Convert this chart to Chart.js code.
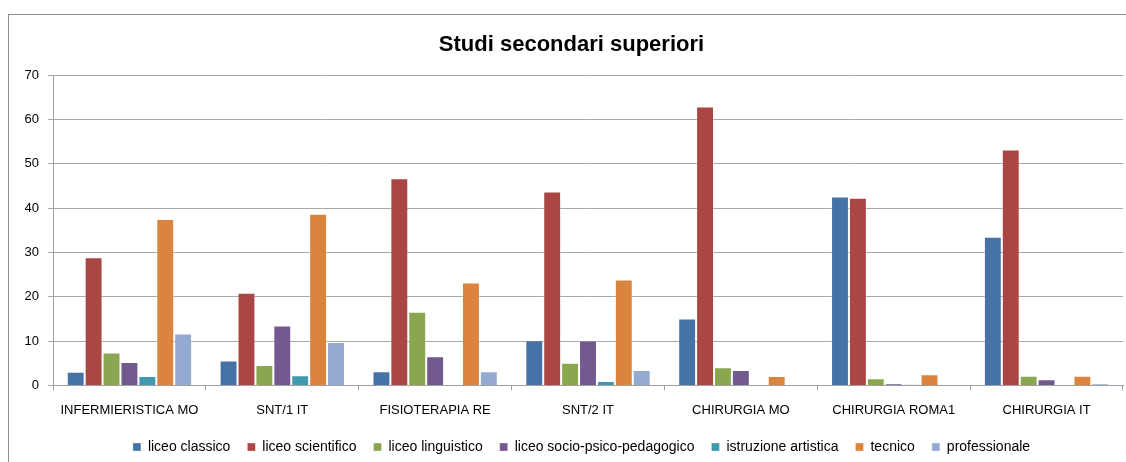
<!DOCTYPE html>
<html>
<head>
<meta charset="utf-8">
<script src="https://cdn.jsdelivr.net/npm/chart.js@4.4.1/dist/chart.umd.min.js"></script>
<style>
  html, body { margin: 0; padding: 0; background: #ffffff; overflow: hidden; }
  #wrap { width: 1126px; height: 462px; position: relative; }
</style>
</head>
<body>
<div id="wrap"><canvas id="c" width="1126" height="462"></canvas></div>
<script>
const categories = ['INFERMIERISTICA MO', 'SNT/1 IT', 'FISIOTERAPIA RE', 'SNT/2 IT', 'CHIRURGIA MO', 'CHIRURGIA ROMA1', 'CHIRURGIA IT'];
const seriesNames = ['liceo classico', 'liceo scientifico', 'liceo linguistico', 'liceo socio-psico-pedagogico', 'istruzione artistica', 'tecnico', 'professionale'];
const liceoClassico    = [3.1, 5.6, 3.2, 10.2, 15.1, 42.6, 33.5];
const liceoScientifico = [28.9, 20.9, 46.7, 43.7, 62.9, 42.3, 53.2];
const liceoLinguistico = [7.4, 4.6, 16.6, 5.1, 4.1, 1.6, 2.2];
const liceoSocio       = [5.3, 13.5, 6.6, 10.1, 3.5, 0.4, 1.4];
const istruzioneArt    = [2.1, 2.3, 0, 1.0, 0, 0.2, 0];
const tecnico          = [37.5, 38.7, 23.2, 23.9, 2.1, 2.5, 2.2];
const professionale    = [11.7, 9.8, 3.2, 3.5, 0, 0.1, 0.45];
const yTicks = [0, 10, 20, 30, 40, 50, 60, 70];
const colors = ['#4672A8', '#AA4744', '#8AA64F', '#72598F', '#4199B0', '#DB843E', '#94AAD0'];

const seriesValues = [liceoClassico, liceoScientifico, liceoLinguistico, liceoSocio, istruzioneArt, tecnico, professionale];

const framePlugin = {
  id: 'frame',
  afterLayout(chart) {
    if (chart.legend) { chart.legend.left += 10; chart.legend.right += 10; }
  },
  beforeDraw(chart) {
    const ctx = chart.ctx;
    ctx.save();
    ctx.fillStyle = '#ffffff';
    ctx.fillRect(0, 0, chart.width, chart.height);
    ctx.strokeStyle = '#8e8e8e';
    ctx.lineWidth = 1;
    ctx.strokeRect(8.5, 14.5, 1300, 600);
    ctx.restore();
  }
};

const FONT = "'Liberation Sans', Arial, sans-serif";

new Chart(document.getElementById('c'), {
  type: 'bar',
  data: {
    labels: categories,
    datasets: seriesNames.map((n, i) => ({
      label: n,
      data: seriesValues[i],
      backgroundColor: colors[i],
      borderColor: 'rgba(255,255,255,0.3)',
      borderWidth: 1,
      categoryPercentage: 0.82,
      barPercentage: 1.0
    }))
  },
  options: {
    responsive: false,
    animation: false,
    devicePixelRatio: 1,
    layout: { padding: { left: 20, right: 3, top: 0, bottom: -2 } },
    plugins: {
      title: {
        display: true,
        text: 'Studi secondari superiori',
        color: '#000000',
        font: { family: FONT, size: 22, weight: 'bold' },
        padding: { top: 32, bottom: 16.6 }
      },
      legend: {
        display: true,
        position: 'bottom',
        labels: {
          color: '#000000',
          font: { family: FONT, size: 14 },
          boxWidth: 8,
          boxHeight: 8,
          padding: 17
        }
      },
      tooltip: { enabled: false }
    },
    scales: {
      x: {
        afterFit(scale) { scale.height = 37.6; },
        grid: { display: true, drawOnChartArea: false, drawTicks: true, tickLength: 5, color: '#a0a0a0', offset: true },
        border: { display: true, color: '#a0a0a0' },
        ticks: { color: '#000000', font: { family: FONT, size: 13 }, padding: 12, maxRotation: 0, autoSkip: false }
      },
      y: {
        min: 0, max: 70,
        afterFit(scale) { scale.width = 33; },
        afterBuildTicks(scale) { scale.ticks = yTicks.map(v => ({ value: v })); },
        grid: { color: '#a8a8a8', tickLength: 5, drawTicks: true },
        border: { display: true, color: '#a0a0a0' },
        ticks: { color: '#000000', font: { family: FONT, size: 13 }, padding: 9 }
      }
    }
  },
  plugins: [framePlugin]
});
</script>
</body>
</html>
